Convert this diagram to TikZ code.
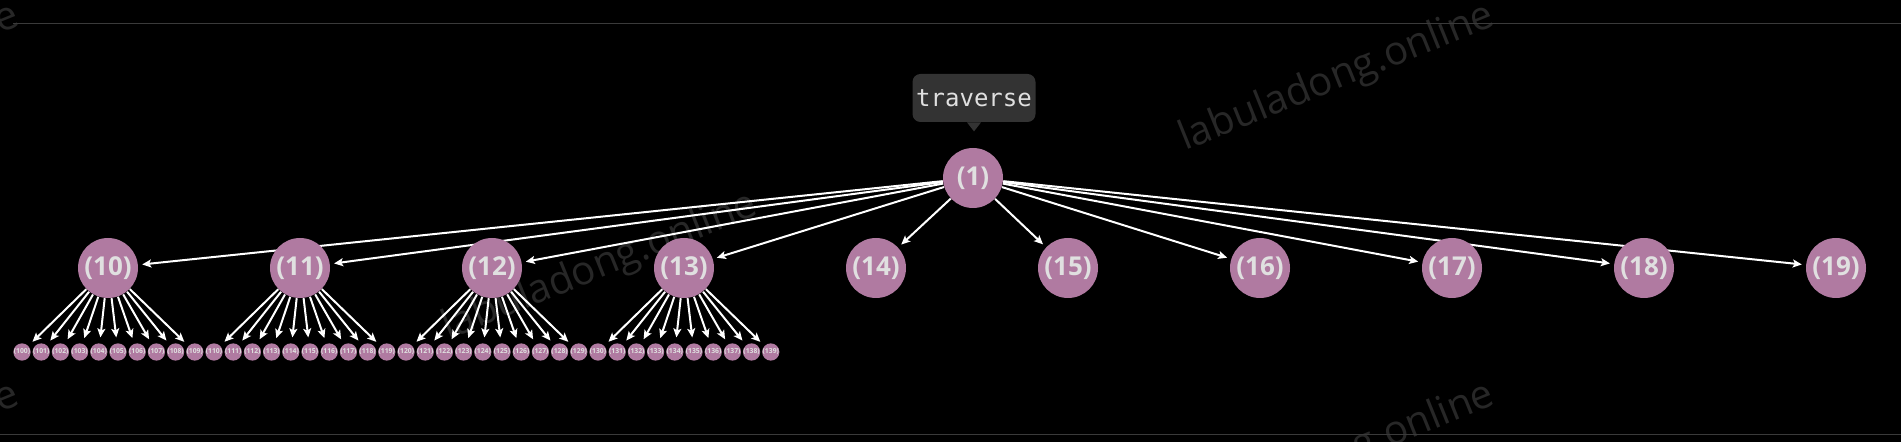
\documentclass[tikz,border=0pt]{standalone}
\usepackage{fontspec}
\setmainfont{Open Sans}
\newfontfamily\codefont{DejaVu Sans Mono}
\usetikzlibrary{arrows.meta}
\definecolor{nodefill}{HTML}{B07AA1}
\definecolor{labelgray}{HTML}{E0E0E0}
\definecolor{boxgray}{HTML}{333333}
\definecolor{rulegray}{HTML}{3A3A3A}
\definecolor{markgray}{HTML}{272727}
\pgfdeclarelayer{bg}
\pgfdeclarelayer{links}
\pgfsetlayers{bg,links,main}

\begin{document}
\begin{tikzpicture}[
    x=0.5pt, y=-0.5pt,
    >={Stealth[length=4.5pt, width=4pt, inset=1pt]},
    vtx/.style={circle, fill=nodefill, minimum size=30pt, inner sep=0pt, text=labelgray, font=\bfseries\fontsize{13}{13}\selectfont},
    leaf/.style={circle, fill=nodefill, minimum size=8.4pt, inner sep=0pt, text=labelgray, font=\bfseries\fontsize{3.4}{3.4}\selectfont},
    arr/.style={->, white, line width=1pt, shorten >=2pt},
    wmark/.style={text=markgray, font=\fontsize{20}{20}\selectfont, rotate=22, anchor=base east, inner sep=0pt},
    hint/.style={rectangle, fill=boxgray, rounded corners=4pt, minimum width=61.5pt, minimum height=24pt, inner sep=0pt, text=labelgray, font=\codefont\fontsize{12}{12}\selectfont}
  ]
  \useasboundingbox (0,0) rectangle (1901,442);
  \begin{pgfonlayer}{bg}
    \fill[black] (0,0) rectangle (1901,442);
    % watermark
    \foreach \p [count=\k] in {(22,25),(22,404),(760,214),(1497,25),(1497,404)}
      \node[wmark] (wm\k) at \p {labuladong.online};
    % frame lines
    \draw[rulegray, line width=0.5pt] (13,24) -- (1901,24);
    \draw[rulegray, line width=0.5pt] (0,435) -- (1901,435);
  \end{pgfonlayer}

  % root with its callout
  \node[vtx] (r) at (973,178) {(1)};
  \node[hint] (cap) at (974,98) {traverse};
  \fill[boxgray] ([xshift=-3.5pt]cap.south) -- ([xshift=3.5pt]cap.south) -- ([yshift=-4.5pt]cap.south) -- cycle;

  % second level (10)..(19)
  \foreach \i in {0,...,9}
    \node[vtx] (c1\i) at (108+192*\i,268) {(1\i)};

  % leaves (100)..(139)
  \foreach \i in {0,...,39} {
    \pgfmathtruncatemacro{\n}{100+\i}
    \node[leaf] (l\n) at (22+19.2*\i,352) {(\n)};
  }

  \begin{pgfonlayer}{links}
    \foreach \i in {0,...,9}
      \draw[arr] (r) -- (c1\i);
    \foreach \i in {0,...,3}
      \foreach \j in {0,...,9}
        \draw[arr, shorten >=2.8pt] (c1\i) -- (l1\i\j);
  \end{pgfonlayer}
\end{tikzpicture}
\end{document}
